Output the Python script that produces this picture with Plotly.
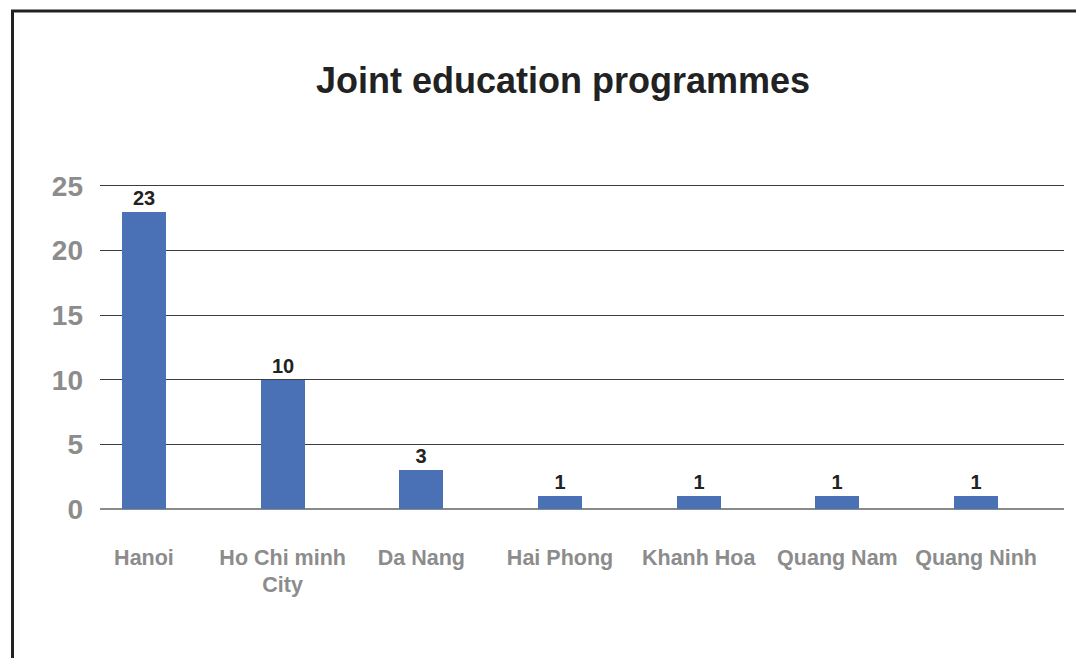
import plotly.graph_objects as go

categories = ["Hanoi", "Ho Chi minh<br>City", "Da Nang", "Hai Phong", "Khanh Hoa", "Quang Nam", "Quang Ninh"]
values = [23, 10, 3, 1, 1, 1, 1]
y_ticks = [0, 5, 10, 15, 20, 25]

OFF = 8  # default page margin of the browser
Y_TOP = 25.3
unit_px = (509 - 186) / 25.0
W, H = 1084 - OFF, 658 - OFF
L = 100 - OFF
B = H - (509 - OFF)
T = round((509 - OFF) - Y_TOP * unit_px)
R = W - (1064 - OFF)
pw, ph = W - L - R, H - T - B

def px_x(p):
    return (p - OFF - L) / pw

def px_y(p):
    return (H - B - (p - OFF)) / ph

fig = go.Figure(go.Bar(
    x=list(range(len(categories))),
    y=values,
    width=0.317,
    marker=dict(color="#4a71b6", line=dict(width=0)),
    text=[str(v) for v in values],
    textposition="outside",
    textfont=dict(family="Liberation Sans", size=20, color="#222222", weight="bold"),
    cliponaxis=False,
))

fig.update_layout(
    width=W, height=H,
    margin=dict(l=L, r=R, t=T, b=B),
    paper_bgcolor="white", plot_bgcolor="white",
    showlegend=False,
    title=dict(text="<b>Joint education programmes</b>", x=(563 - OFF) / W, xanchor="center",
               y=1 - (80 - OFF) / H, yanchor="middle", yref="container",
               font=dict(family="Liberation Sans", size=36, color="#222222")),
    xaxis=dict(
        range=[-0.317, 6.634],
        tickmode="array", tickvals=list(range(len(categories))), ticktext=categories,
        tickfont=dict(family="Liberation Sans", size=21.5, color="#8c8c8c", weight="bold"),
        showgrid=False, zeroline=False, showline=False, ticks="",
        ticklabelstandoff=33,
    ),
    yaxis=dict(
        range=[0, Y_TOP],
        tickmode="array", tickvals=y_ticks,
        tickfont=dict(family="Liberation Sans", size=28, color="#8c8c8c", weight="bold"),
        showgrid=True, gridcolor="#3d3d3d", gridwidth=1,
        zeroline=True, zerolinecolor="#8a8a8a", zerolinewidth=2,
        showline=False, ticks="", ticklabelstandoff=16,
    ),
    bargap=0,
)

fig.add_shape(type="rect", xref="paper", yref="paper",
              x0=px_x(12.5), x1=px_x(1200), y0=px_y(800), y1=px_y(11),
              line=dict(color="#222222", width=3), fillcolor="rgba(0,0,0,0)", layer="above")

fig.write_html("out.html")
